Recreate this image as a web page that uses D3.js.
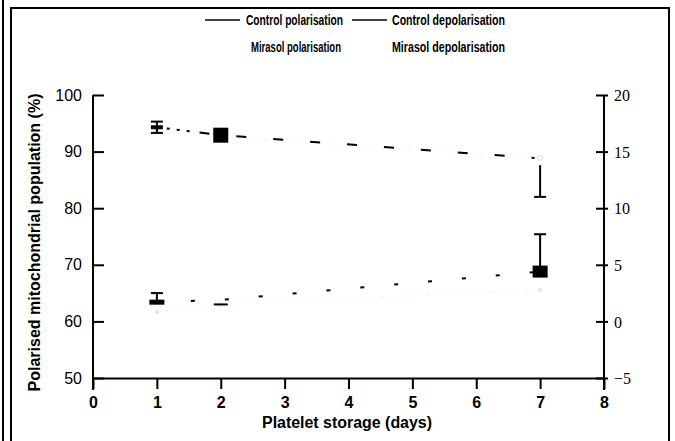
<!DOCTYPE html>
<html><head><meta charset="utf-8">
<script src="https://cdn.jsdelivr.net/npm/d3@7"></script>
<style>
body{margin:0;background:#fff;}
svg{display:block;}
text{font-family:"Liberation Sans Narrow","Arial Narrow","Liberation Sans",sans-serif;fill:#000;}
</style></head><body>
<script>
// ---- data ----
const days = [1, 2, 7];
const xTicks = [0, 1, 2, 3, 4, 5, 6, 7, 8];
const leftTicks = [50, 60, 70, 80, 90, 100];
const rightTicks = [-5, 0, 5, 10, 15, 20];
const seriesNames = ["Control polarisation", "Control depolarisation", "Mirasol polarisation", "Mirasol depolarisation"];
const controlPolarisation = [94.3, 92.9, 88.8];      // left axis (%)
const controlPolErrUp = [1.0, 0, 0];
const controlPolErrDown = [1.0, 0, 6.8];
const controlDepolarisation = [1.7, 1.9, 4.4];       // right axis
const controlDepErrUp = [0.8, 0, 3.3];
const controlDepErrDown = [0, 0, 0];
const mirasolPolarisation = [94.0, 92.6, 88.9];
const mirasolDepolarisation = [0.8, 1.5, 2.8];
const yLabel = "Polarised mitochondrial population (%)";
const xLabel = "Platelet storage (days)";

const W = 675, H = 441;
const svg = d3.select("body").append("svg").attr("width", W).attr("height", H);

// frame
svg.append("line").attr("x1", 3).attr("x2", 3).attr("y1", 0).attr("y2", H).attr("stroke", "#000").attr("stroke-width", 2);
svg.append("rect").attr("x", 11).attr("y", 8).attr("width", 658).attr("height", H).attr("fill", "none").attr("stroke", "#000").attr("stroke-width", 2);

const x = d3.scaleLinear().domain([0, 8]).range([93, 604]);
const yL = d3.scaleLinear().domain([50, 100]).range([378, 95]);
const yR = d3.scaleLinear().domain([-5, 20]).range([378, 95]);

// left axis
const gL = svg.append("g").attr("transform", `translate(${x(0)},0)`)
  .call(d3.axisLeft(yL).tickValues(leftTicks).tickSize(-11).tickPadding(11).tickSizeOuter(0));
gL.select(".domain").remove();
gL.selectAll("line").attr("stroke-width", 2);
gL.selectAll("text").style("font-size", "16px").style("font-family", "'Liberation Sans Narrow',sans-serif");
svg.append("line").attr("x1", x(0)).attr("x2", x(0)).attr("y1", yL(100)).attr("y2", 390).attr("stroke", "#000").attr("stroke-width", 2);

// right axis
const gR = svg.append("g").attr("transform", `translate(${x(8)},0)`)
  .call(d3.axisRight(yR).tickValues(rightTicks).tickSize(4).tickPadding(6).tickSizeOuter(0));
gR.select(".domain").remove();
gR.selectAll("line").attr("x1", -8).attr("stroke-width", 2);
gR.selectAll("text").style("font-size", "16px").style("font-family", "'Liberation Serif',serif").attr("dy", "0.36em");
svg.append("line").attr("x1", x(8)).attr("x2", x(8)).attr("y1", yR(20)).attr("y2", 390).attr("stroke", "#000").attr("stroke-width", 2);

// bottom axis
const gB = svg.append("g").attr("transform", `translate(0,${yL(50)})`)
  .call(d3.axisBottom(x).tickValues(xTicks).tickSize(11).tickPadding(8).tickSizeOuter(0));
gB.select(".domain").attr("stroke-width", 2);
gB.selectAll("line").attr("stroke-width", 2);
gB.selectAll("text").style("font-size", "16px").style("font-weight", "bold");

// axis labels
svg.append("text").attr("transform", `translate(40,${(95 + 390) / 2}) rotate(-90)`)
  .attr("text-anchor", "middle").style("font-size", "16px").style("font-weight", "bold")
  .attr("textLength", 298).attr("lengthAdjust", "spacingAndGlyphs").text(yLabel);
svg.append("text").attr("x", 347).attr("y", 428).attr("text-anchor", "middle")
  .style("font-size", "16px").style("font-weight", "bold")
  .attr("textLength", 170).attr("lengthAdjust", "spacingAndGlyphs").text(xLabel);

// legend
const legend = [
  {name: seriesNames[0], lx: 205, tx: 246, y: 20, line: true, len: 97},
  {name: seriesNames[1], lx: 352, tx: 392, y: 20, line: true, len: 113},
  {name: seriesNames[2], lx: 205, tx: 251, y: 47, line: false, len: 90},
  {name: seriesNames[3], lx: 352, tx: 392, y: 47, line: false, len: 113}
];
legend.forEach(l => {
  if (l.line) svg.append("line").attr("x1", l.lx).attr("x2", l.lx + 35).attr("y1", l.y).attr("y2", l.y).attr("stroke", "#000").attr("stroke-width", 1.5);
  svg.append("text").attr("x", l.tx).attr("y", l.y).attr("dy", "0.35em").style("font-size", "15px").style("font-weight", "bold")
    .attr("textLength", l.len).attr("lengthAdjust", "spacingAndGlyphs").text(l.name);
});

// faint Mirasol series
const lineL = d3.line().x((d, i) => x(days[i])).y(d => yL(d));
const lineR = d3.line().x((d, i) => x(days[i])).y(d => yR(d));
svg.append("path").attr("d", lineL(mirasolPolarisation)).attr("fill", "none").attr("stroke", "#f5f5f5").attr("stroke-width", 1.5).attr("stroke-dasharray", "3,6");
svg.append("path").attr("d", lineR(mirasolDepolarisation)).attr("fill", "none").attr("stroke", "#f5f5f5").attr("stroke-width", 1.5).attr("stroke-dasharray", "3,6");
mirasolPolarisation.forEach((v, i) => {
  svg.append("circle").attr("cx", x(days[i])).attr("cy", yL(v)).attr("r", 2.5).attr("fill", "none").attr("stroke", "#dadada");
});
mirasolDepolarisation.forEach((v, i) => {
  svg.append("circle").attr("cx", x(days[i])).attr("cy", yR(v)).attr("r", 2).attr("fill", "#e4e4e4");
});

// control lines
svg.append("path").attr("d", lineL(controlPolarisation)).attr("fill", "none").attr("stroke", "#000").attr("stroke-width", 2).attr("stroke-dasharray", "3,7,3,7,3,7,3,10,10,27,10,27,10,27,10,27,10,27,10,27,10,27,10,27,10,27");
svg.append("path").attr("d", lineR(controlDepolarisation)).attr("fill", "none").attr("stroke", "#000").attr("stroke-width", 2).attr("stroke-dasharray", "4,30");

// error bars
function errBar(cx, v, up, down, scale) {
  const top = scale(v + up), bot = scale(v - down);
  svg.append("line").attr("x1", cx).attr("x2", cx).attr("y1", top).attr("y2", bot).attr("stroke", "#000").attr("stroke-width", 2);
  if (up > 0) svg.append("line").attr("x1", cx - 6).attr("x2", cx + 6).attr("y1", top).attr("y2", top).attr("stroke", "#000").attr("stroke-width", 2);
  if (down > 0) svg.append("line").attr("x1", cx - 6).attr("x2", cx + 6).attr("y1", bot).attr("y2", bot).attr("stroke", "#000").attr("stroke-width", 2);
}
controlPolarisation.forEach((v, i) => {
  const cx = x(days[i]);
  if (i === 2) errBar(cx, v - 1.2, 0, controlPolErrDown[i] - 1.2, yL);
  else errBar(cx, v, controlPolErrUp[i], controlPolErrDown[i], yL);
});
controlDepolarisation.forEach((v, i) => {
  errBar(x(days[i]), v, controlDepErrUp[i], controlDepErrDown[i], yR);
});

// markers
const markPol = [[12, 4], [15, 15], [0, 0]];
controlPolarisation.forEach((v, i) => {
  const [w, h] = markPol[i];
  if (w) svg.append("rect").attr("x", x(days[i]) - w / 2).attr("y", yL(v) - h / 2).attr("width", w).attr("height", h).attr("fill", "#000");
});
const markDep = [[15, 5], [14, 2], [15, 12]];
controlDepolarisation.forEach((v, i) => {
  const [w, h] = markDep[i];
  const yy = i === 1 ? yR(mirasolDepolarisation[1]) : yR(v);
  svg.append("rect").attr("x", x(days[i]) - w / 2).attr("y", yy - h / 2).attr("width", w).attr("height", h).attr("fill", "#000");
});
</script>
</body></html>
